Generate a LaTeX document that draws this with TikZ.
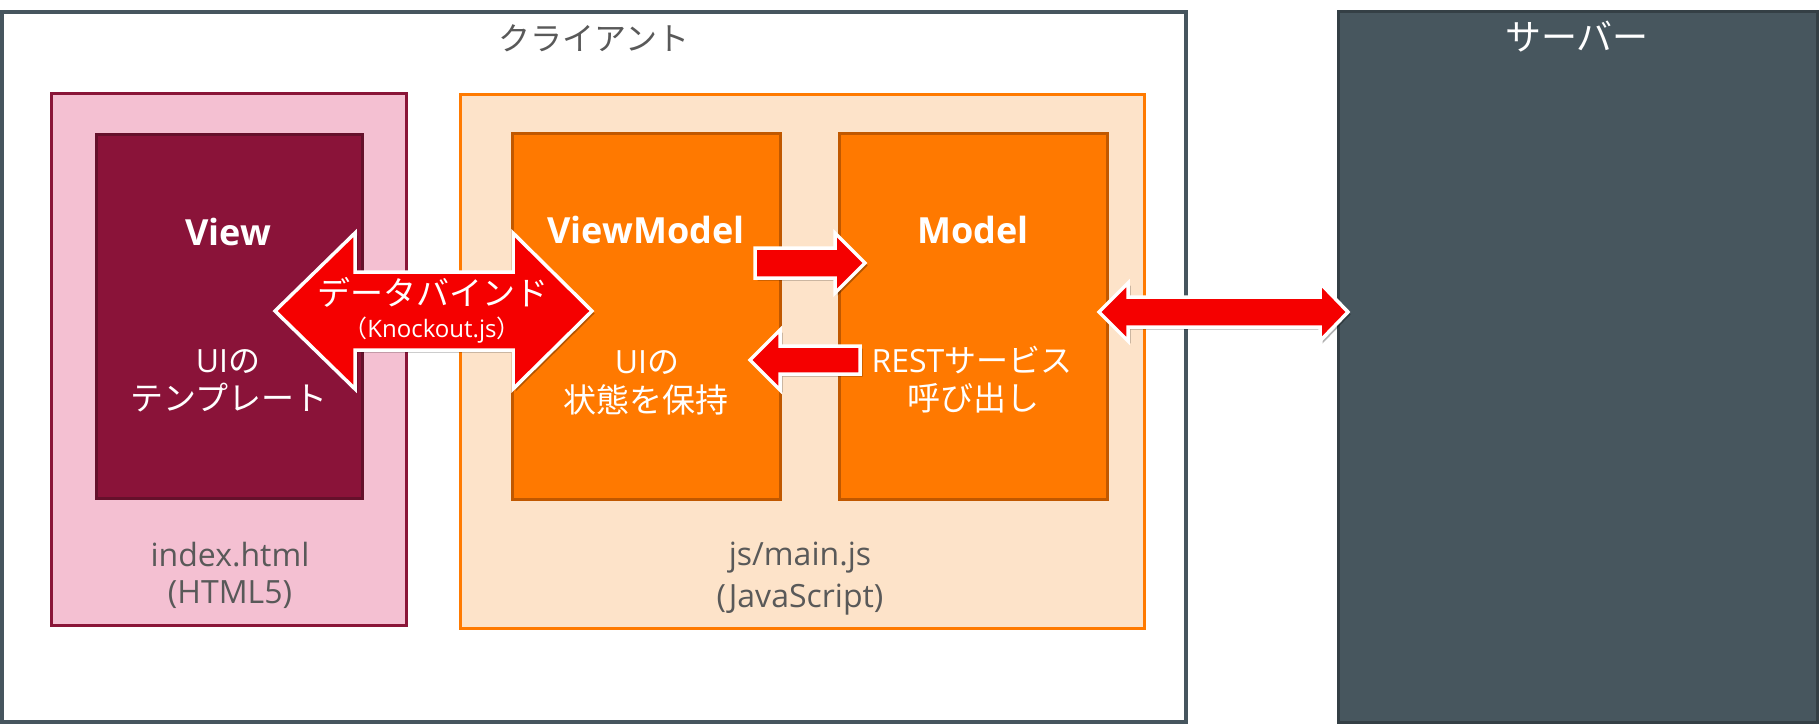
\documentclass[tikz,border=0pt]{standalone}
\usepackage{fontspec}
\setmainfont{Open Sans}
\newfontfamily\jpf{Noto Sans CJK JP}
\usetikzlibrary{shadows}
\definecolor{clientline}{HTML}{46555E}
\definecolor{serverfill}{HTML}{47565E}
\definecolor{serverline}{HTML}{343F45}
\definecolor{pinkfill}{HTML}{F4C0D2}
\definecolor{pinkline}{HTML}{8A1538}
\definecolor{viewfill}{HTML}{8A1339}
\definecolor{viewline}{HTML}{65102B}
\definecolor{jsfill}{HTML}{FDE3C9}
\definecolor{jsline}{HTML}{FF7A00}
\definecolor{orfill}{HTML}{FF7900}
\definecolor{orline}{HTML}{C05800}
\definecolor{arrowred}{HTML}{F50000}
\definecolor{txtgray}{HTML}{595959}
\tikzset{
  box/.style={rectangle, inner sep=0pt, outer sep=0pt, line width=3pt},
  barrow/.style={fill=arrowred, draw=white, line width=3.5pt, line join=miter,
    drop shadow={shadow xshift=2.5pt, shadow yshift=-2.5pt, opacity=0.3, fill=black}},
  wtxt/.style={text=white, inner sep=0pt},
  gtxt/.style={text=txtgray, inner sep=0pt},
  jp/.style={font=\jpf\fontsize{#1}{#1}\selectfont},
  lat/.style={font=\fontsize{#1}{#1}\selectfont},
  latb/.style={font=\bfseries\fontsize{#1}{#1}\selectfont},
}
\begin{document}
\begin{tikzpicture}[x=1pt,y=-1pt]
\useasboundingbox (0,0) rectangle (1819,725);
\fill[white] (0,0) rectangle (1819,725);
% containers
\node[box, draw=clientline, line width=4pt, fill=white, minimum width=1184pt, minimum height=710pt] (client) at (594,367) {};
\node[box, draw=serverline, fill=serverfill, minimum width=479pt, minimum height=710pt] (server) at (1577.5,367) {};
\node[box, draw=pinkline, fill=pinkfill, minimum width=355pt, minimum height=532pt] (html) at (228.5,359) {};
\node[box, draw=viewline, fill=viewfill, minimum width=266pt, minimum height=364pt] (view) at (229,316) {};
\node[box, draw=jsline, fill=jsfill, minimum width=684pt, minimum height=534pt] (js) at (802,361) {};
\node[box, draw=orline, fill=orfill, minimum width=268pt, minimum height=366pt] (vm) at (646,316) {};
\node[box, draw=orline, fill=orfill, minimum width=268pt, minimum height=366pt] (model) at (973,316) {};
% arrow end points
\coordinate (dbL) at (275,311);
\coordinate (dbR) at (592,311);
\coordinate (vmOut) at (755,263);
\coordinate (mdIn) at (865,263);
\coordinate (mdOut) at (860,360);
\coordinate (vmIn) at (750,360);
\coordinate (svL) at (1099,312);
\coordinate (svR) at (1348,312);
% block arrows
\path[barrow] (dbL) -- ++(80,-78) -- ++(0,39) -- ++(158,0) -- ++(0,-39) -- (dbR)
  -- ++(-79,78) -- ++(0,-39) -- ++(-158,0) -- ++(0,39) -- cycle;
\path[barrow] (vmOut) ++(0,-15) -- ++(80,0) -- ++(0,-15) -- (mdIn) -- ++(-30,30) -- ++(0,-15) -- ++(-80,0) -- cycle;
\path[barrow] (mdOut) ++(0,-14) -- ++(-80,0) -- ++(0,-16) -- (vmIn) -- ++(30,30) -- ++(0,-16) -- ++(80,0) -- cycle;
\path[barrow] (svL) -- ++(29,-29) -- ++(0,14) -- ++(192,0) -- ++(0,-14) -- (svR)
  -- ++(-28,29) -- ++(0,-14) -- ++(-192,0) -- ++(0,14) -- cycle;
% labels
\node[gtxt, jp=32] (clientlbl) at (594,38) {クライアント};
\node[wtxt, jp=36] (serverlbl) at (1577,37) {サーバー};
\node[wtxt, latb=36] (viewlbl) at (228,232) {View};
\node[wtxt, lat=32] (view1) at (228,362) {UI{\jpf の}};
\node[wtxt, jp=33] (view2) at (229,398) {テンプレート};
\node[wtxt, latb=36] (vmlbl) at (646,230) {ViewModel};
\node[wtxt, lat=32] (vm1) at (647,363) {UI{\jpf の}};
\node[wtxt, jp=33] (vm2) at (646,400) {状態を保持};
\node[wtxt, latb=36] (modellbl) at (973,230) {Model};
\node[wtxt, lat=32] (model1) at (972,360) {REST{\jpf サービス}};
\node[wtxt, jp=33] (model2) at (973,398) {呼び出し};
\node[gtxt, lat=32] (html1) at (230,555) {index.html};
\node[gtxt, lat=32] (html2) at (230,595) {(HTML5)};
\node[gtxt, lat=32] (js1) at (800,558) {js/main.js};
\node[gtxt, lat=32] (js2) at (800,600) {(JavaScript)};
\node[wtxt, jp=33] (dbt) at (433,292) {データバインド};
\node[wtxt, lat=24] (dbk) at (432,330) {{\jpf （}Knockout.js{\jpf ）}};
\end{tikzpicture}
\end{document}
